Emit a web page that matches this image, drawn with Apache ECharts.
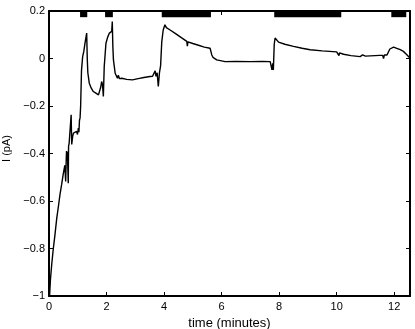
<!DOCTYPE html>
<html>
<head>
<meta charset="utf-8">
<script src="https://cdn.jsdelivr.net/npm/echarts@6/dist/echarts.min.js"></script>
<style>
  html, body { margin: 0; padding: 0; background: #fff; }
  #main { width: 415px; height: 329px; }
</style>
</head>
<body>
<div id="main"></div>
<script>
// recording time (minutes) and current (pA)
var timeMin = [
  0.02, 0.05, 0.1, 0.15, 0.2, 0.27, 0.33, 0.38, 0.44, 0.5,
  0.55, 0.58, 0.6, 0.61, 0.64, 0.67, 0.68, 0.7, 0.73, 0.77,
  0.79, 0.82, 0.85, 0.9, 0.96, 0.99, 1.02, 1.04, 1.06, 1.08,
  1.1, 1.13, 1.17, 1.21, 1.25, 1.31, 1.33, 1.35, 1.4, 1.47,
  1.54, 1.63, 1.72, 1.77, 1.8, 1.83, 1.86, 1.89, 1.92, 1.98,
  2.04, 2.1, 2.18, 2.2, 2.22, 2.24, 2.3, 2.38, 2.41, 2.45,
  2.53, 2.7, 2.9, 3.1, 3.3, 3.51, 3.6, 3.66, 3.69, 3.72,
  3.76, 3.8, 3.84, 3.88, 3.92, 3.97, 4.03, 4.08, 4.21, 4.4,
  4.6, 4.79, 4.81, 4.83, 5.0, 5.14, 5.4, 5.6, 5.64, 5.66,
  5.7, 5.83, 6.0, 6.12, 6.5, 7.0, 7.4, 7.69, 7.72, 7.75,
  7.78, 7.8, 7.83, 7.86, 7.92, 7.98, 8.2, 8.5, 8.8, 9.08,
  9.5, 10.0, 10.06, 10.08, 10.1, 10.24, 10.5, 10.82, 10.9, 11.0,
  11.5, 11.6, 11.63, 11.66, 11.75, 11.8, 11.85, 11.9, 11.98, 12.09,
  12.21, 12.32, 12.38, 12.44, 12.5, 12.52, 12.55
];
var currentPA = [
  -1.0, -0.93, -0.86, -0.8, -0.75, -0.672, -0.62, -0.574, -0.53, -0.483,
  -0.45, -0.518, -0.42, -0.39, -0.4, -0.525, -0.37, -0.357, -0.36, -0.237,
  -0.362, -0.33, -0.314, -0.31, -0.307, -0.32, -0.293, -0.31, -0.26, -0.25,
  -0.2, -0.05, 0.008, 0.03, 0.064, 0.107, 0.0, -0.06, -0.104, -0.125,
  -0.139, -0.146, -0.153, -0.148, -0.12, -0.097, -0.11, -0.16, -0.034, 0.064,
  0.09, 0.107, 0.114, 0.156, 0.05, -0.006, -0.062, -0.083, -0.07, -0.085,
  -0.083, -0.088, -0.09, -0.085, -0.08, -0.076, -0.075, -0.07, -0.052, -0.075,
  -0.06, -0.118, -0.06, -0.03, 0.07, 0.12, 0.142, 0.13, 0.12, 0.105,
  0.088, 0.072, 0.052, 0.07, 0.063, 0.058, 0.048, 0.043, 0.04, 0.015,
  0.005, -0.006, -0.01, -0.013, -0.012, -0.013, -0.012, -0.013, -0.03, -0.048,
  -0.02, -0.048, 0.06, 0.086, 0.078, 0.069, 0.06, 0.051, 0.043, 0.037,
  0.032, 0.028, 0.027, 0.012, 0.024, 0.018, 0.012, 0.008, 0.015, 0.01,
  0.013, 0.013, 0.0, 0.015, 0.015, 0.012, 0.04, 0.045, 0.048, 0.043,
  0.037, 0.03, 0.025, 0.016, 0.016, 0.005, 0.012
];

// application periods shown as black bars along the top
var barStart = [1.08, 1.95, 3.92, 7.83, 11.9];
var barEnd = [1.33, 2.22, 5.63, 10.16, 12.42];
var barLow = 0.174;
var barHigh = 0.2;

var xTicks = [0, 2, 4, 6, 8, 10, 12];

var trace = timeMin.map(function (t, i) { return [t, currentPA[i]]; });
var bars = barStart.map(function (s, i) { return [s, barEnd[i]]; });

var chart = echarts.init(document.getElementById('main'), null, { renderer: 'canvas' });

var font = { fontFamily: 'Liberation Sans, Arial, sans-serif', fontSize: 11, color: '#000' };
var axisLine = { show: true, onZero: false, lineStyle: { color: '#000', width: 2 } };
var tick = { show: true, inside: true, length: 4, lineStyle: { color: '#000', width: 1 } };

var option = {
  animation: false,
  grid: { left: 49, top: 11, right: 5, bottom: 33, outerBoundsMode: 'none', containLabel: false },
  xAxis: [{
    type: 'value',
    position: 'bottom',
    min: 0,
    max: 12.55,
    interval: 2,
    name: 'time (minutes)',
    nameLocation: 'middle',
    nameGap: 16,
    nameTextStyle: Object.assign({}, font, { fontSize: 13 }),
    axisLine: axisLine,
    axisTick: tick,
    axisLabel: Object.assign({
      margin: 5,
      showMaxLabel: false,
      formatter: function (v) { return xTicks.indexOf(v) >= 0 ? String(v) : ''; }
    }, font),
    splitLine: { show: false }
  }, {
    type: 'value',
    position: 'top',
    min: 0,
    max: 12.55,
    interval: 2,
    axisLine: axisLine,
    axisTick: tick,
    axisLabel: { show: false },
    splitLine: { show: false }
  }],
  yAxis: [{
    type: 'value',
    position: 'left',
    min: -1,
    max: 0.2,
    interval: 0.2,
    name: 'I (pA)',
    nameLocation: 'middle',
    nameGap: 32,
    nameTextStyle: Object.assign({}, font, { padding: [0, 0, 0, 10] }),
    axisLine: axisLine,
    axisTick: tick,
    axisLabel: Object.assign({
      margin: 4,
      formatter: function (v) {
        var s = String(+v.toFixed(1));
        return s.replace('-', '\u2212');
      }
    }, font),
    splitLine: { show: false }
  }, {
    type: 'value',
    position: 'right',
    min: -1,
    max: 0.2,
    interval: 0.2,
    axisLine: axisLine,
    axisTick: tick,
    axisLabel: { show: false },
    splitLine: { show: false }
  }],
  series: [{
    type: 'line',
    data: trace,
    showSymbol: false,
    symbol: 'none',
    lineStyle: { color: '#000', width: 1.4 },
    z: 3
  }, {
    type: 'custom',
    data: bars,
    renderItem: function (params, api) {
      var p0 = api.coord([api.value(0), barHigh]);
      var p1 = api.coord([api.value(1), barLow]);
      return {
        type: 'rect',
        shape: { x: p0[0], y: p0[1], width: p1[0] - p0[0], height: p1[1] - p0[1] },
        style: { fill: '#000' }
      };
    },
    z: 4
  }]
};

chart.setOption(option);
</script>
</body>
</html>
